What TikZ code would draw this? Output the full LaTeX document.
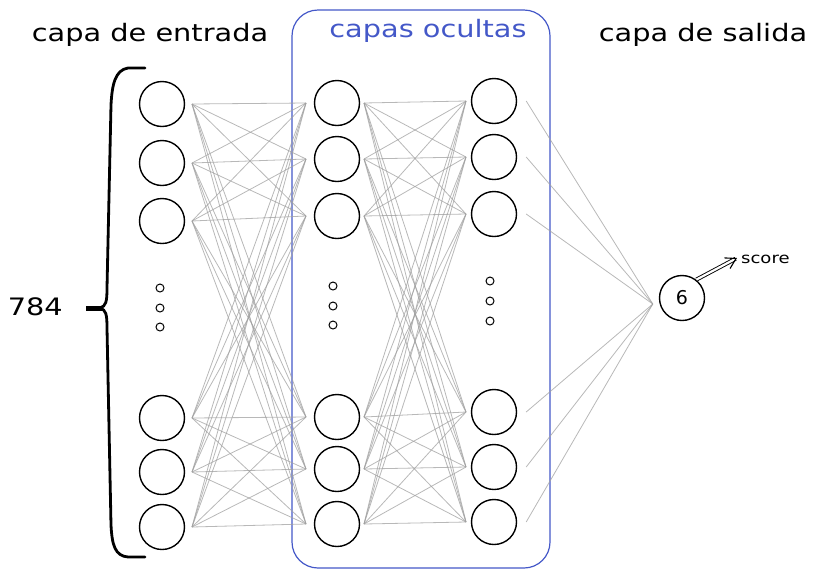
\documentclass[tikz,border=0pt]{standalone}
\usepackage{fontspec}
\setmainfont{DejaVu Sans}
\usetikzlibrary{arrows.meta}
\definecolor{hidblue}{RGB}{68,88,200}
\definecolor{linkgray}{RGB}{160,160,160}
\tikzset{
  neuron/.style={circle, draw=black, line width=1.4pt, minimum size=45pt, inner sep=0pt},
  tinydot/.style={circle, draw=black, line width=1pt, minimum size=8pt, inner sep=0pt},
  link/.style={draw=linkgray, line width=0.8pt, opacity=0.75},
  title/.style={font=\fontsize{24}{28}\selectfont, inner sep=0pt},
  bracepath/.style={draw=black, line width=2.8pt, line cap=round, line join=round},
}
\newcommand{\wide}[1]{\scalebox{1.2}[1]{#1}}
\begin{document}
\begin{tikzpicture}[x=1pt,y=-1pt]
\useasboundingbox (0,0) rectangle (816,579);
% hidden box
\draw[hidblue, line width=1.2pt, rounded corners=26pt] (292,10) rectangle (550,568);
% titles
\node[title] (tin) at (150,35) {\wide{capa de entrada}};
\node[title, text=hidblue] (thid) at (428,31) {\wide{capas ocultas}};
\node[title] (tout) at (703,35) {\wide{capa de salida}};
% links
\foreach \a/\ya in {1/104,2/163,3/221,4/418,5/472,6/527}
  \foreach \b/\yb in {1/103,2/159,3/216,4/417,5/469,6/524}
    \path[link] (192,\ya) -- (306,\yb);
\foreach \a/\ya in {1/103,2/159,3/216,4/417,5/469,6/524}
  \foreach \b/\yb in {1/101,2/157,3/214,4/412,5/467,6/522}
    \path[link] (364,\ya) -- (466,\yb);
% input layer
\foreach \n/\y in {1/104,2/163,3/221,4/418,5/472,6/527}
  \node[neuron] (i\n) at (162,\y) {};
\foreach \n/\y in {1/288,2/308,3/327}
  \node[tinydot] (di\n) at (160,\y) {};
% hidden layer 1
\foreach \n/\y in {1/103,2/159,3/216,4/417,5/469,6/524}
  \node[neuron] (h\n) at (337,\y) {};
\foreach \n/\y in {1/286,2/306,3/325}
  \node[tinydot] (dh\n) at (333,\y) {};
% hidden layer 2
\foreach \n/\y in {1/101,2/157,3/214,4/412,5/467,6/522}
  \node[neuron] (g\n) at (494,\y) {};
\foreach \n/\y in {1/281,2/301,3/321}
  \node[tinydot] (dg\n) at (490,\y) {};
% output
\node[neuron, font=\fontsize{19}{22}\selectfont] (o) at (682,298) {6};
\node[inner sep=0pt, font=\fontsize{15}{18}\selectfont, anchor=west] (sc) at (741,259) {\wide{score}};
% links to output
\foreach \a in {1,...,6}
  \path[link] ([xshift=9pt]g\a.east) -- ([xshift=-6pt,yshift=-6pt]o.west);
% score arrow
\draw[double, double distance=2.2pt, line width=0.9pt, -{Straight Barb[length=10pt,width=12pt,line width=1.1pt]}] ([xshift=-2pt,yshift=2pt]o.north east) -- ([xshift=-4pt,yshift=1pt]sc.west);
% brace
\path[bracepath] (145,68) -- (128,68) .. controls (115,70) and (112,85) .. (111,105) -- (107,288) .. controls (107,302) and (106,306) .. (100,308) .. controls (106,310) and (107,314) .. (107,328) -- (111,525) .. controls (112,545) and (115,556) .. (128,557) -- (145,557);
\draw[black, line width=5pt] (86,308) coordinate (st) -- (103,308) coordinate (se);
\node[title, anchor=east] (num) at (63,307) {\wide{784}};
\end{tikzpicture}
\end{document}
